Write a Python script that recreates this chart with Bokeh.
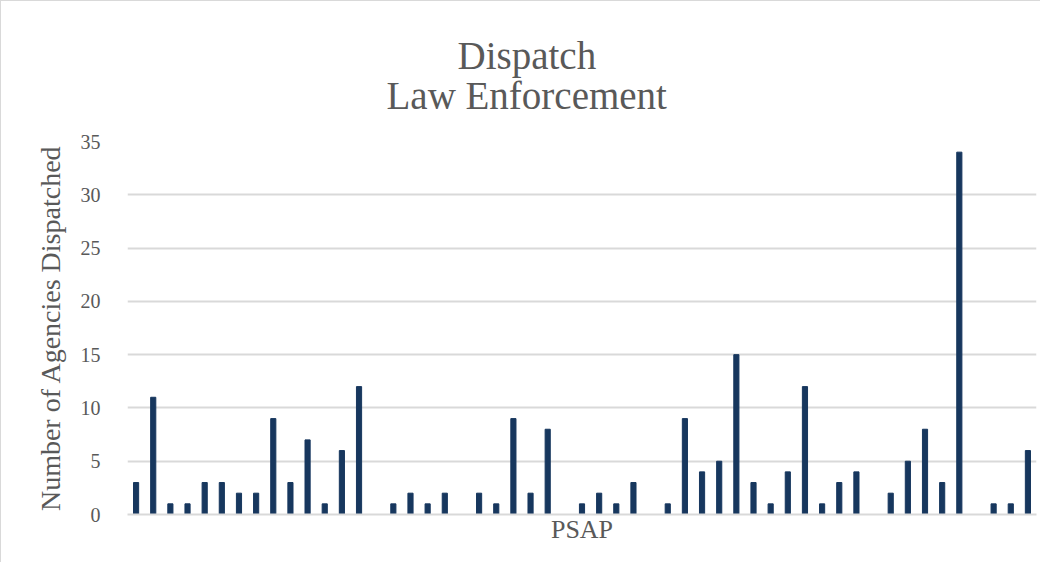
from bokeh.plotting import figure
from bokeh.models import FixedTicker, Range1d, Title
from bokeh.embed import file_html
from bokeh.resources import INLINE

psap = [str(i) for i in range(1, 54)]
agencies = [3, 11, 1, 1, 3, 3, 2, 2, 9, 3, 7, 1, 6, 12, 0, 1, 2, 1, 2, 0,
            2, 1, 9, 2, 8, 0, 1, 2, 1, 3, 0, 1, 9, 4, 5, 15, 3, 1, 4, 12,
            1, 3, 4, 0, 2, 5, 8, 3, 34, 0, 1, 1, 6]
y_ticks = [0, 5, 10, 15, 20, 25, 30, 35]
title_lines = ["Dispatch", "Law Enforcement"]

FONT = "Liberation Serif"
GREY = "#595959"

p = figure(width=1040, height=562, x_range=psap, y_range=Range1d(0, 35),
           output_backend="svg", toolbar_location=None,
           min_border_left=126, min_border_right=5,
           min_border_top=140, min_border_bottom=49)
p.styles = {"border-left": "1px solid #d9d9d9", "border-top": "1px solid #d9d9d9"}
p.outline_line_color = None
p.vbar(x=psap, top=agencies, width=0.3, color="#17375e")

p.yaxis.ticker = FixedTicker(ticks=y_ticks)
p.yaxis.axis_line_color = None
p.yaxis.major_tick_line_color = None
p.yaxis.minor_tick_line_color = None
p.yaxis.major_label_text_font = FONT
p.yaxis.major_label_text_font_size = "20px"
p.yaxis.major_label_text_color = GREY
p.yaxis.major_label_standoff = 21
p.yaxis.axis_label = "Number of Agencies Dispatched"
p.yaxis.axis_label_text_font = FONT
p.yaxis.axis_label_text_font_size = "28px"
p.yaxis.axis_label_text_font_style = "normal"
p.yaxis.axis_label_text_color = GREY
p.yaxis.axis_label_standoff = 12

p.xaxis.axis_line_color = "#d9d9d9"
p.xaxis.axis_line_width = 2
p.xaxis.major_tick_line_color = None
p.xaxis.minor_tick_line_color = None
p.xaxis.major_label_text_font_size = "0px"
p.xaxis.major_label_text_alpha = 0
p.xaxis.major_label_standoff = 0
p.xaxis.axis_label = "PSAP"
p.xaxis.axis_label_text_font = FONT
p.xaxis.axis_label_text_font_size = "26px"
p.xaxis.axis_label_text_font_style = "normal"
p.xaxis.axis_label_text_color = GREY
p.xaxis.axis_label_standoff = -6

p.xgrid.grid_line_color = None
p.ygrid.grid_line_color = "#d9d9d9"
p.ygrid.grid_line_width = 2

# title lines: added bottom (nearest the frame) first
p.add_layout(Title(text=title_lines[1], align="left", offset=259,
                   text_font=FONT, text_font_size="39px", text_color=GREY,
                   text_font_style="normal", standoff=50), "above")
p.add_layout(Title(text=title_lines[0], align="left", offset=330,
                   text_font=FONT, text_font_size="39px", text_color=GREY,
                   text_font_style="normal", standoff=-60), "above")

open("out.html", "w").write(file_html(p, INLINE))
